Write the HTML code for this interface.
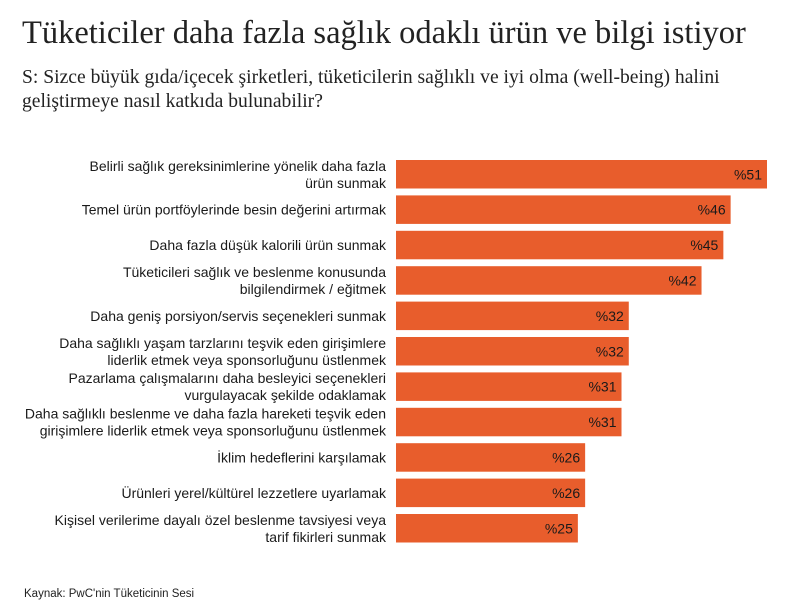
<!DOCTYPE html>
<html><head><meta charset="utf-8"><style>
body{margin:0;background:#fff;width:800px;height:614px;overflow:hidden;position:relative;font-family:"Liberation Sans",sans-serif}
#title{position:absolute;left:22px;top:15px;font:32.5px "Liberation Serif",serif;color:#222;white-space:nowrap}
#sub{position:absolute;left:22px;top:66px;font:19.6px/23.5px "Liberation Serif",serif;color:#222;width:740px}
#src{position:absolute;left:24px;top:588px;font:11.5px "Liberation Sans",sans-serif;color:#222}
</style></head><body>
<div id="title">Tüketiciler daha fazla sağlık odaklı ürün ve bilgi istiyor</div>
<div id="sub">S: Sizce büyük gıda/içecek şirketleri, tüketicilerin sağlıklı ve iyi olma (well-being) halini geliştirmeye nasıl katkıda bulunabilir?</div>
<svg id="chart" width="800" height="614" style="position:absolute;left:0;top:0"></svg>
<div id="src">Kaynak: PwC'nin Tüketicinin Sesi</div>
<script>
const categories=[
["Belirli sağlık gereksinimlerine yönelik daha fazla","ürün sunmak"],
["Temel ürün portföylerinde besin değerini artırmak"],
["Daha fazla düşük kalorili ürün sunmak"],
["Tüketicileri sağlık ve beslenme konusunda","bilgilendirmek / eğitmek"],
["Daha geniş porsiyon/servis seçenekleri sunmak"],
["Daha sağlıklı yaşam tarzlarını teşvik eden girişimlere","liderlik etmek veya sponsorluğunu üstlenmek"],
["Pazarlama çalışmalarını daha besleyici seçenekleri","vurgulayacak şekilde odaklamak"],
["Daha sağlıklı beslenme ve daha fazla hareketi teşvik eden","girişimlere liderlik etmek veya sponsorluğunu üstlenmek"],
["İklim hedeflerini karşılamak"],
["Ürünleri yerel/kültürel lezzetlere uyarlamak"],
["Kişisel verilerime dayalı özel beslenme tavsiyesi veya","tarif fikirleri sunmak"]];
const values=[51,46,45,42,32,32,31,31,26,26,25];
const valueLabels=["%51","%46","%45","%42","%32","%32","%31","%31","%26","%26","%25"];
const svg=document.getElementById('chart');const NS='http://www.w3.org/2000/svg';
const x0=396,pxPer=371/51;const xs=v=>v*pxPer;
const y0=160,pitch=35.4,bh=28.5;const ys=i=>y0+i*pitch;
function mk(t,a){const e=document.createElementNS(NS,t);for(const k in a)e.setAttribute(k,a[k]);svg.appendChild(e);return e;}
values.forEach((v,i)=>{
const r=mk('rect',{x:x0,y:ys(i),width:xs(v),height:bh,fill:'#E85D2C'});


const t=mk('text',{x:x0+xs(v)-5,y:ys(i)+bh/2+5,'text-anchor':'end','font-size':'14','fill':'#1a1a1a','font-family':'Liberation Sans, sans-serif'});
t.textContent=valueLabels[i];


const lines=categories[i];const cy=ys(i)+bh/2;
lines.forEach((ln,j)=>{
const yy=cy+5+(j-(lines.length-1)/2)*17;
const l=mk('text',{x:386,y:yy,'text-anchor':'end','font-size':'14','fill':'#1a1a1a','font-family':'Liberation Sans, sans-serif'});
l.textContent=ln;


});
});
</script>
</body></html>
